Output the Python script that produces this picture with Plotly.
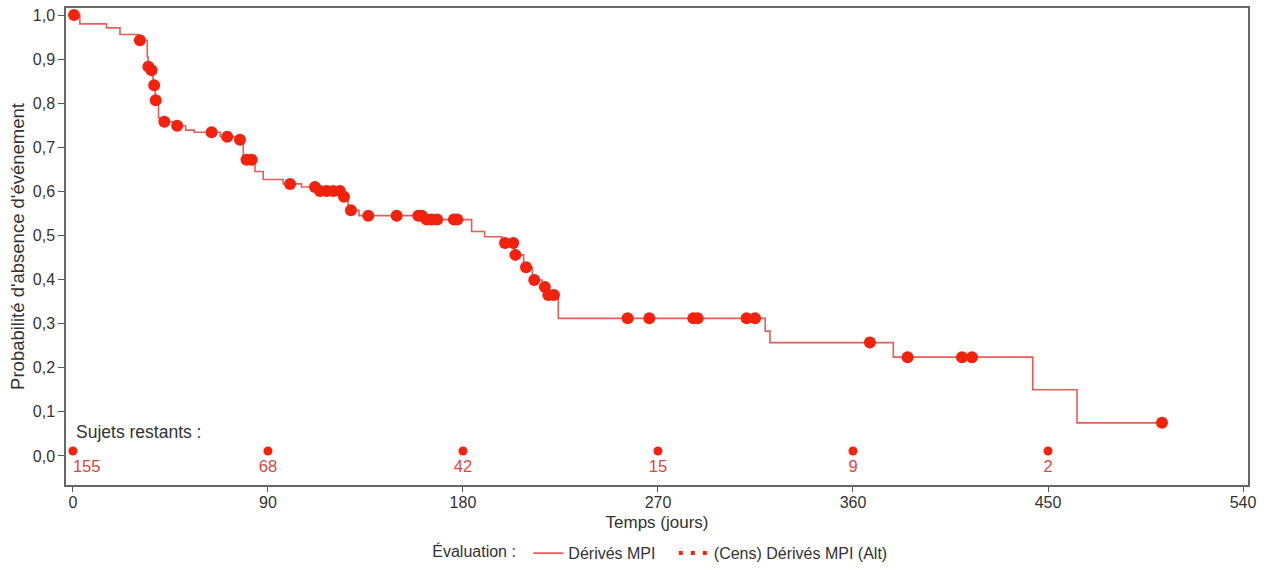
import plotly.graph_objects as go

# Kaplan-Meier step curve: time (days) of each step and survival after the step
step_times = [0, 3.2, 15.5, 21.7, 30.0, 34.3, 34.7, 36.0, 37.0, 38.0, 39.5, 41.8, 47.5,
              52.0, 56.0, 68.0, 75.0, 78.6, 84.0, 87.8, 97.0, 105.5, 113.0, 124.5, 127.0,
              132.0, 162.0, 184.0, 190.0, 198.0, 203.8, 208.0, 212.0, 216.5, 219.0, 224.0,
              319.5, 321.7, 378.6, 443.0, 463.4, 502.6]
step_surv = [1.000, 0.980, 0.971, 0.956, 0.943, 0.905, 0.883, 0.875, 0.841, 0.807, 0.766,
             0.758, 0.749, 0.739, 0.734, 0.724, 0.717, 0.672, 0.645, 0.627, 0.617, 0.610,
             0.601, 0.588, 0.557, 0.545, 0.536, 0.509, 0.497, 0.483, 0.456, 0.428, 0.399,
             0.383, 0.365, 0.312, 0.283, 0.257, 0.224, 0.150, 0.075, 0.075]

# Censored observations
cens_times = [0.5, 30.9, 34.8, 36.3, 37.5, 38.2, 42.2, 48.1, 64.0, 71.2, 77.1, 80.1, 82.5,
              100.2, 111.7, 114.0, 117.1, 120.1, 123.2, 125.1, 128.3, 136.3, 149.4, 159.4,
              161.0, 163.2, 165.5, 168.1, 175.8, 177.4, 199.4, 203.2, 204.2, 209.1, 212.9,
              217.8, 219.4, 222.0, 256.0, 266.0, 286.3, 288.3, 310.9, 314.8, 367.8, 385.2,
              410.3, 414.9, 502.6]
cens_surv = [1.000, 0.943, 0.883, 0.875, 0.841, 0.807, 0.758, 0.749, 0.734, 0.724, 0.717,
             0.672, 0.672, 0.617, 0.610, 0.601, 0.601, 0.601, 0.601, 0.588, 0.557, 0.545,
             0.545, 0.545, 0.545, 0.536, 0.536, 0.536, 0.536, 0.536, 0.483, 0.483, 0.456,
             0.428, 0.399, 0.383, 0.365, 0.365, 0.312, 0.312, 0.312, 0.312, 0.312, 0.312,
             0.257, 0.224, 0.224, 0.224, 0.075]

# Number at risk
risk_times = [0, 90, 180, 270, 360, 450]
risk_counts = [155, 68, 42, 15, 9, 2]

x_ticks = [0, 90, 180, 270, 360, 450, 540]
y_ticks = [0.0, 0.1, 0.2, 0.3, 0.4, 0.5, 0.6, 0.7, 0.8, 0.9, 1.0]

LINE_RED = "#E45E5A"
MARK_RED = "#F2220F"
FONT = "Liberation Sans, Arial, sans-serif"
NB = "\u00a0"

fig = go.Figure()

fig.add_trace(go.Scatter(
    x=step_times, y=step_surv, mode="lines", line_shape="hv",
    line=dict(color=LINE_RED, width=1.6), name="Dérivés MPI" + NB * 3, showlegend=True,
    hoverinfo="skip"))

fig.add_trace(go.Scatter(
    x=cens_times, y=cens_surv, mode="markers",
    marker=dict(color=MARK_RED, size=12, line=dict(width=0)),
    showlegend=False, name="cens"))

# legend entry for censored markers (dotted)
fig.add_trace(go.Scatter(
    x=[None], y=[None], mode="lines",
    line=dict(color=MARK_RED, width=4, dash="4px,8px"),
    name="(Cens) Dérivés MPI (Alt)", showlegend=True))

# at-risk markers & numbers
fig.add_trace(go.Scatter(
    x=risk_times, y=[0.011] * len(risk_times), mode="markers",
    marker=dict(color=MARK_RED, size=9), showlegend=False, hoverinfo="skip"))
fig.add_trace(go.Scatter(
    x=risk_times, y=[-0.027] * len(risk_times), mode="text",
    text=[str(c) for c in risk_counts],
    textposition=["middle right"] + ["middle center"] * (len(risk_times) - 1),
    textfont=dict(color="#E0453C", size=16.5, family=FONT),
    showlegend=False, hoverinfo="skip"))

fig.add_annotation(x=0.3, y=0.054, xref="x", yref="y", text="Sujets restants :",
                   showarrow=False, xanchor="left", yanchor="middle",
                   font=dict(size=17.5, color="#333333", family=FONT))

fig.update_layout(
    width=1264, height=571,
    margin=dict(l=66, r=16, t=8, b=86, autoexpand=False),
    paper_bgcolor="white", plot_bgcolor="white",
    separators=", ",
    font=dict(family=FONT, size=15, color="#333333"),
    legend=dict(orientation="h", x=0.3082, xanchor="left", y=-0.143, yanchor="middle",
                title=dict(text="Évaluation :" + NB, side="left", font=dict(size=16)),
                font=dict(size=16, color="#333333"),
                bgcolor="rgba(0,0,0,0)"),
    xaxis=dict(range=[-3.2, 542.3], tickvals=x_ticks, ticks="outside", ticklen=5,
               ticklabelstandoff=-3,
               tickcolor="#555555", showgrid=False, zeroline=False,
               showline=True, linecolor="#666666", linewidth=1.5, mirror=True,
               tickfont=dict(size=16, color="#333333"),
               title=dict(text="Temps (jours)", font=dict(size=17), standoff=6)),
    yaxis=dict(range=[-0.066, 1.016], tickvals=y_ticks, tickformat=".1f",
               ticks="outside", ticklen=6, tickcolor="#555555", showgrid=False,
               zeroline=False, showline=True, linecolor="#666666", linewidth=1.5,
               mirror=True, tickfont=dict(size=16, color="#333333"),
               title=dict(text="Probabilité d'absence d'événement", font=dict(size=18.5),
                          standoff=3)),
)

fig.write_html("out.html", config={"displayModeBar": False},
               post_script="document.body.style.margin='0px';")
